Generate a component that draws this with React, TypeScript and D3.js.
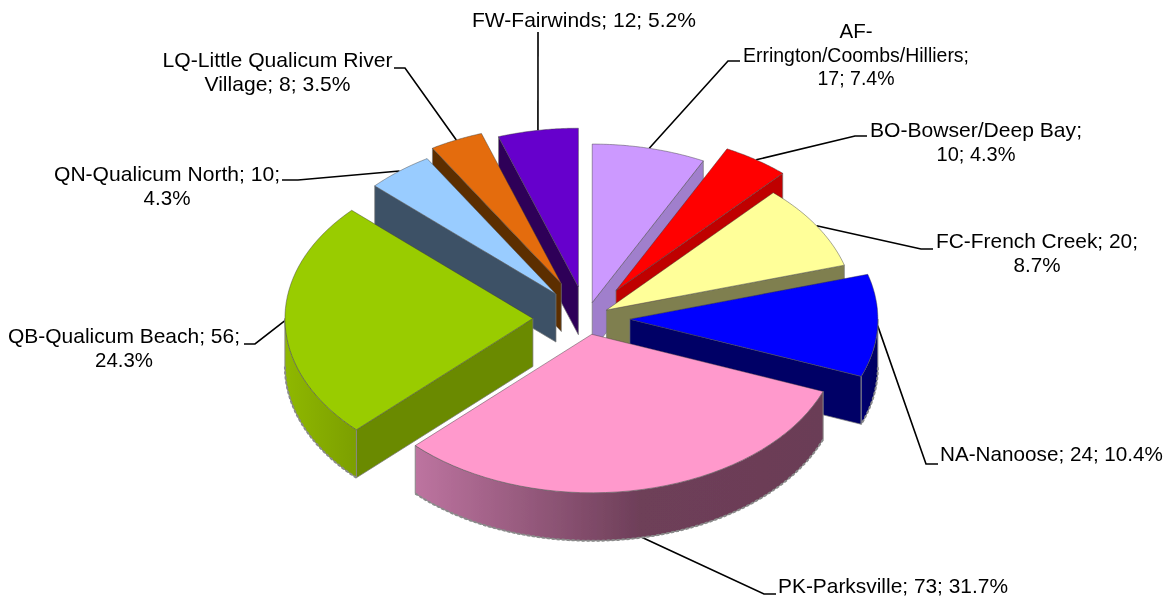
import React from 'react';
import * as d3 from 'd3';

const WIDTH = 1169;
const HEIGHT = 598;

// Data, clockwise from 12 o'clock
const codes = ['AF', 'BO', 'FC', 'NA', 'PK', 'QB', 'QN', 'LQ', 'FW'];
const values = [17, 10, 20, 24, 73, 56, 10, 8, 12];
const labelLines = [
  ['AF-', 'Errington/Coombs/Hilliers;', '17; 7.4%'],
  ['BO-Bowser/Deep Bay;', '10; 4.3%'],
  ['FC-French Creek; 20;', '8.7%'],
  ['NA-Nanoose; 24; 10.4%'],
  ['PK-Parksville; 73; 31.7%'],
  ['QB-Qualicum Beach; 56;', '24.3%'],
  ['QN-Qualicum North; 10;', '4.3%'],
  ['LQ-Little Qualicum River', 'Village; 8; 3.5%'],
  ['FW-Fairwinds; 12; 5.2%'],
];
// point explosion, percent of the radius
const explosion = [10, 21, 9.5, 17.5, 10.5, 21.6, 19.5, 24, 20];

// Styling per slice
const topColors = ['#cc99ff', '#ff0000', '#ffff99', '#0000ff', '#ff99cc', '#99cc00', '#99ccff', '#e46c0a', '#6600cc'];
const sideColors = ['#a07fcc', '#bf0000', '#7f7f4f', '#000066', '#6b3d56', '#6b8a00', '#3d5166', '#5c2e00', '#2f0059'];
const rimStops: Record<string, [string, string][]> = {
  NA: [['0', '#000070'], ['1', '#000060']],
  PK: [['0', '#bd74a0'], ['0.55', '#6e3f59'], ['1', '#6b3d56']],
  QB: [['0', '#8fb800'], ['1', '#7c9f00']],
};

// Label placement: centre x, first baseline, rendered line widths, then the leader's elbow
const labelLayout = [
  { x: 856, y: 38, widths: [33, 226, 77], from: [740, 61], elbow: [728, 61] },
  { x: 976, y: 137, widths: [212, 79], from: [867, 136], elbow: [855, 136] },
  { x: 1037, y: 248, widths: [202, 47], from: [933, 249], elbow: [921, 249] },
  { x: 1051.5, y: 461, widths: [223], from: [938, 464], elbow: [926, 464] },
  { x: 893, y: 593, widths: [230], from: [776, 594], elbow: [764, 594] },
  { x: 124, y: 343, widths: [232, 58], from: [244, 344], elbow: [255, 344] },
  { x: 167, y: 181, widths: [226, 47], from: [282, 180], elbow: [298, 180] },
  { x: 277.5, y: 67, widths: [230, 146], from: [394, 68], elbow: [405, 68] },
  { x: 584, y: 27, widths: [224], from: [538, 32], elbow: [538, 32] },
];

const RX = 248;
const RY = 158.5;
const DEPTH = 48;
const CX = 586.5;
const CY = 318;

const sx = d3.scaleLinear().domain([-1, 1]).range([-RX, RX]);
const sy = d3.scaleLinear().domain([-1, 1]).range([RY, -RY]);

const arcs = d3.pie<number>().sort(null).value((d) => d).startAngle(0).endAngle(2 * Math.PI)(values);
const line = d3.line<number[]>().x((d) => d[0]).y((d) => d[1]);

const App = () => {
  const slices = arcs.map((a, i) => {
    const mid = (a.startAngle + a.endAngle) / 2;
    const e = explosion[i] / 100;
    const ox = CX + sx(Math.sin(mid) * e);
    const oy = CY + sy(Math.cos(mid) * e);
    const at = (angle: number, z = 0) => [ox + sx(Math.sin(angle)), oy + sy(Math.cos(angle)) + z];
    const rim = (a0: number, a1: number, z = 0) =>
      d3.range(0, 41).map((k) => at(a0 + ((a1 - a0) * k) / 40, z));
    return { a, i, mid, ox, oy, at, rim, code: codes[i] };
  });

  // back slices first, Parksville sits on top of its neighbours
  const order = [8, 7, 6, 5, 0, 1, 2, 3, 4];

  return (
    <svg
      width={WIDTH}
      height={HEIGHT}
      style={{ position: 'fixed', left: 0, top: 0, display: 'block', background: '#fff' }}
    >
      <defs>
        <filter id="soft" x="-5%" y="-5%" width="110%" height="110%">
          <feGaussianBlur stdDeviation="0.45" />
        </filter>
        {slices
          .filter((s) => rimStops[s.code])
          .map((s) => {
            const lo = Math.max(s.a.startAngle, Math.PI / 2);
            const hi = Math.min(s.a.endAngle, (3 * Math.PI) / 2);
            const xs = s.rim(lo, hi).map((p) => p[0]);
            return (
              <linearGradient
                key={s.code}
                id={`rim-${s.code}`}
                gradientUnits="userSpaceOnUse"
                x1={d3.min(xs)}
                x2={d3.max(xs)}
                y1={0}
                y2={0}
              >
                {rimStops[s.code].map(([o, c]) => (
                  <stop key={o} offset={o} stopColor={c} />
                ))}
              </linearGradient>
            );
          })}
      </defs>

      <g filter="url(#soft)">
        {/* leaders */}
        <g fill="none" stroke="#000" strokeWidth={1.6}>
          {slices.map((s) => {
            const l = labelLayout[s.i];
            const front = Math.cos(s.mid) < -0.7;
            return (
              <path key={s.code} d={line([l.from, l.elbow, s.at(s.mid, front ? DEPTH : 0)]) ?? ''} />
            );
          })}
        </g>

        {order.map((idx) => {
          const s = slices[idx];
          const { startAngle: a0, endAngle: a1 } = s.a;
          const o = [s.ox, s.oy];
          const radialWall = (angle: number) =>
            [o, s.at(angle), s.at(angle, DEPTH), [s.ox, s.oy + DEPTH]];
          const walls: number[][][] = [];
          if (Math.sin(a0) < -1e-6) walls.push(radialWall(a0));
          if (Math.sin(a1) > 1e-6) walls.push(radialWall(a1));
          const lo = Math.max(a0, Math.PI / 2);
          const hi = Math.min(a1, (3 * Math.PI) / 2);
          const hasRim = hi > lo;
          return (
            <g key={s.code}>
              {walls.map((w, k) => (
                <path
                  key={k}
                  d={(line(w) ?? '') + 'Z'}
                  fill={sideColors[idx]}
                  stroke="#777"
                  strokeWidth={1}
                  strokeOpacity={0.7}
                />
              ))}
              {hasRim && (
                <>
                  <path
                    d={(line([...s.rim(lo, hi), ...s.rim(hi, lo, DEPTH)]) ?? '') + 'Z'}
                    fill={`url(#rim-${s.code})`}
                    stroke="#888"
                    strokeWidth={1}
                  />
                  <path
                    d={line(s.rim(lo, hi, DEPTH)) ?? ''}
                    fill="none"
                    stroke="#8a8a8a"
                    strokeWidth={2}
                    strokeDasharray="3 2"
                  />
                </>
              )}
              <path
                d={(line([o, ...s.rim(a0, a1)]) ?? '') + 'Z'}
                fill={topColors[idx]}
                stroke="#3a3a3a"
                strokeOpacity={0.55}
                strokeWidth={0.8}
              />
            </g>
          );
        })}

        {/* labels */}
        <g fontFamily="'Liberation Sans', Arial, sans-serif" fontSize={21} fill="#000" textAnchor="middle">
          {labelLayout.map((l, i) =>
            labelLines[i].map((t, k) => (
              <text key={t} x={l.x} y={l.y + k * 23.5} textLength={l.widths[k]} lengthAdjust="spacingAndGlyphs">
                {t}
              </text>
            ))
          )}
        </g>
      </g>
    </svg>
  );
};

export default App;
